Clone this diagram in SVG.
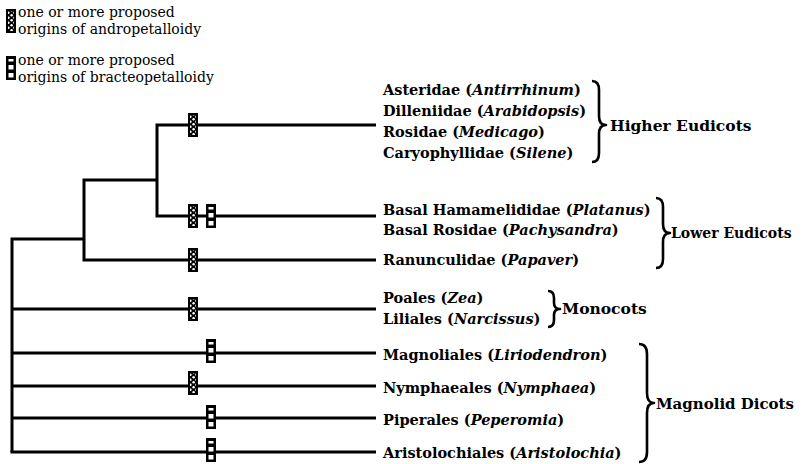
<svg xmlns="http://www.w3.org/2000/svg" width="802" height="464" viewBox="0 0 802 464">
<style>
.br{fill:none;stroke:#000;stroke-width:3;stroke-linejoin:miter;stroke-linecap:butt}
.brace{fill:none;stroke:#000;stroke-width:2.6;stroke-linejoin:round}
.lab{font-family:"DejaVu Serif","Liberation Serif",serif;font-weight:bold;font-size:14.5px;fill:#000}
.grp{font-family:"DejaVu Serif","Liberation Serif",serif;font-weight:bold;font-size:15.5px;fill:#000}
.leg{font-family:"DejaVu Serif","Liberation Serif",serif;font-size:14px;fill:#000}
</style>
<defs>
<pattern id="chk" width="6" height="5" patternUnits="userSpaceOnUse" x="190" y="0">
<rect width="6" height="5" fill="#000"/>
<circle cx="1.6" cy="1.25" r="1.2" fill="#fff"/>
<circle cx="4.4" cy="3.75" r="1.2" fill="#fff"/>
</pattern>
<symbol id="andro" viewBox="0 0 10 24" width="10" height="24" overflow="visible">
<rect x="0" y="0" width="10" height="24" fill="#000"/>
<rect x="2" y="2" width="6" height="20" fill="url(#chk)"/>
</symbol>
<symbol id="bract" viewBox="0 0 10 24" width="10" height="24" overflow="visible">
<rect x="0" y="0" width="10" height="24" fill="#000"/>
<rect x="2.5" y="3" width="5" height="2.5" fill="#fff"/>
<rect x="2.5" y="9" width="5" height="4.5" fill="#fff"/>
<rect x="2.5" y="17" width="5" height="4.5" fill="#fff"/>
</symbol>
</defs>
<rect width="802" height="464" fill="#fff"/>

<g id="legend">
<use href="#andro" x="6" y="9"/>
<text class="leg" x="18" y="17">one or more proposed</text>
<text class="leg" x="18" y="34">origins of andropetalloidy</text>
<use href="#bract" x="6" y="56"/>
<text class="leg" x="18" y="65">one or more proposed</text>
<text class="leg" x="18" y="82">origins of bracteopetalloidy</text>
</g>

<g id="connectors">
<path class="br" d="M12,452 V239 H84"/>
<path class="br" d="M157,180 H84 V260 H376"/>
<path class="br" d="M376,125 H157 V216 H376"/>
<path class="br" d="M12,309 H376"/>
<path class="br" d="M12,353 H376"/>
<path class="br" d="M12,386 H376"/>
<path class="br" d="M12,418 H376"/>
<path class="br" d="M10.5,452 H376"/>
</g>

<g id="origins">
<use href="#andro" x="188" y="113"/>
<use href="#andro" x="188" y="204"/>
<use href="#bract" x="206" y="204"/>
<use href="#andro" x="188" y="248"/>
<use href="#andro" x="188" y="297"/>
<use href="#bract" x="206" y="339"/>
<use href="#andro" x="188" y="371"/>
<use href="#bract" x="206" y="405"/>
<use href="#bract" x="206" y="438"/>
</g>

<g id="higher-eudicots">
<text class="lab" x="383" y="95">Asteridae (<tspan font-style="italic">Antirrhinum</tspan>)</text>
<text class="lab" x="383" y="116">Dilleniidae (<tspan font-style="italic">Arabidopsis</tspan>)</text>
<text class="lab" x="383" y="137">Rosidae (<tspan font-style="italic">Medicago</tspan>)</text>
<text class="lab" x="383" y="158">Caryophyllidae (<tspan font-style="italic">Silene</tspan>)</text>
<path class="brace" d="M592,81 Q599,81 599,90 L599,116 Q599,125 606,125 Q599,125 599,134 L599,153 Q599,162 592,162"/>
<text class="grp" x="610" y="131">Higher Eudicots</text>
</g>

<g id="lower-eudicots">
<text class="lab" x="383" y="215">Basal Hamamelididae (<tspan font-style="italic">Platanus</tspan>)</text>
<text class="lab" x="383" y="235">Basal Rosidae (<tspan font-style="italic">Pachysandra</tspan>)</text>
<text class="lab" x="383" y="265">Ranunculidae (<tspan font-style="italic">Papaver</tspan>)</text>
<path class="brace" d="M656,198 Q663,198 663,207 L663,224 Q663,233 670,233 Q663,233 663,242 L663,259 Q663,268 656,268"/>
<text class="grp" x="671" y="238" font-size="14px" style="font-size:14px">Lower Eudicots</text>
</g>

<g id="monocots">
<text class="lab" x="383" y="303">Poales (<tspan font-style="italic">Zea</tspan>)</text>
<text class="lab" x="383" y="324">Liliales (<tspan font-style="italic">Narcissus</tspan>)</text>
<path class="brace" d="M548,291 Q554,291 554,298 L554,303 Q554,309 560,309 Q554,309 554,315 L554,320 Q554,327 548,327"/>
<text class="grp" x="562" y="314">Monocots</text>
</g>

<g id="magnolid-dicots">
<text class="lab" x="383" y="360">Magnoliales (<tspan font-style="italic">Liriodendron</tspan>)</text>
<text class="lab" x="383" y="393">Nymphaeales (<tspan font-style="italic">Nymphaea</tspan>)</text>
<text class="lab" x="383" y="425">Piperales (<tspan font-style="italic">Peperomia</tspan>)</text>
<text class="lab" x="383" y="458">Aristolochiales (<tspan font-style="italic">Aristolochia</tspan>)</text>
<path class="brace" d="M639,344 Q647,344 647,354 L647,393 Q647,403 654,403 Q647,403 647,413 L647,452 Q647,462 639,462"/>
<text class="grp" x="656" y="409" textLength="138" lengthAdjust="spacingAndGlyphs">Magnolid Dicots</text>
</g>
</svg>
